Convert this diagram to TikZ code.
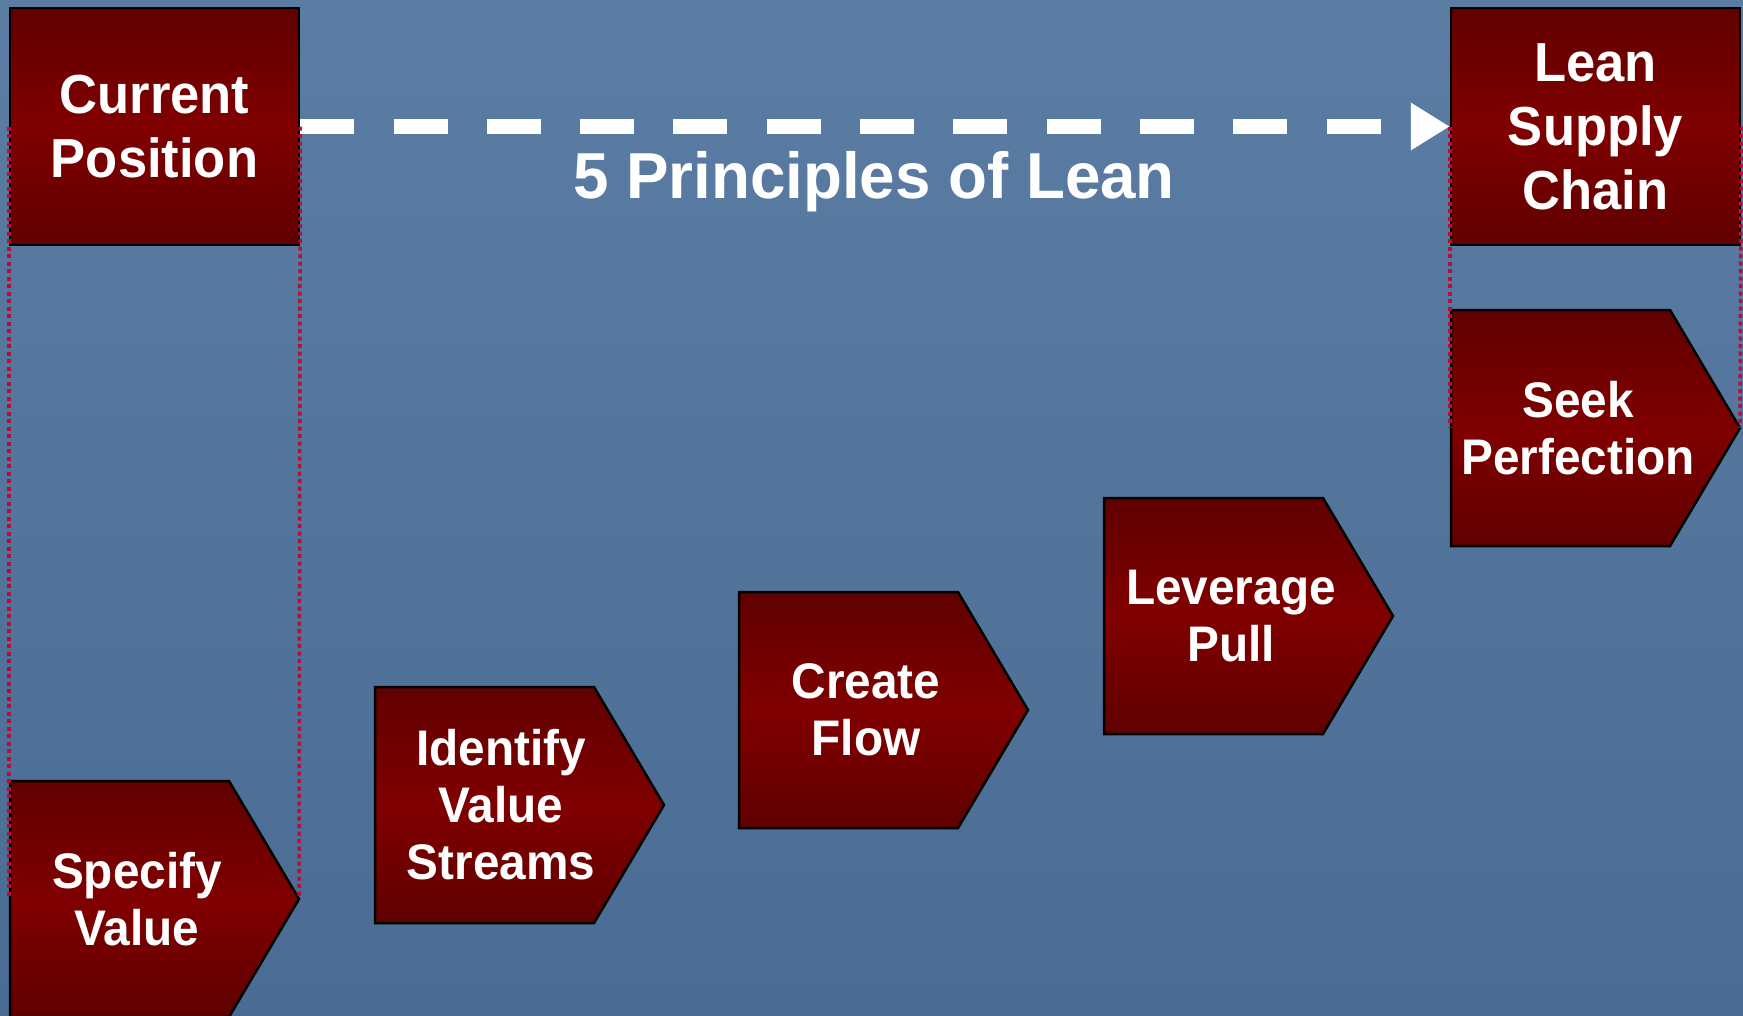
\documentclass[tikz,border=0pt]{standalone}
\usepackage{fontspec}
\setmainfont{Liberation Sans}
\newfontfamily\sqfont[FakeStretch=0.955]{Liberation Sans}
\newfontfamily\ttlfont[FakeStretch=0.98]{Liberation Sans}
\usetikzlibrary{arrows.meta}
\definecolor{bgtop}{RGB}{92,125,163}
\definecolor{bgbot}{RGB}{74,107,147}
\definecolor{boxdark}{RGB}{96,0,0}
\definecolor{boxmid}{RGB}{128,0,0}
\definecolor{dotred}{RGB}{178,16,56}
\tikzset{
  boxshade/.style={top color=boxdark, bottom color=boxdark, middle color=boxmid, draw=black, line width=2.5pt},
  titlebox/.style={boxshade, minimum width=289pt, minimum height=237pt, inner sep=0pt, text=white, align=center, font=\sqfont\bfseries\fontsize{55}{64}\selectfont},
  ptext/.style={text=white, align=center, inner sep=0pt, font=\sqfont\bfseries\fontsize{50}{57}\selectfont},
  guide/.style={draw=dotred, line width=3.5pt, dash pattern=on 4pt off 3.5pt},
  flowarrow/.style={draw=white, line width=15pt, dash pattern=on 54pt off 39.3pt, -{Triangle[length=39pt,width=45pt]}},
}
\newcommand{\pentagon}[3]{% name, left, top
  \draw[boxshade] (#2,#3) -- ++(219,0) -- ++(70,118) -- ++(-70,118) -- ++(-219,0) -- cycle;
  \coordinate (#1-tip) at ({#2+289},{#3+118});
  \coordinate (#1-top) at (#2,#3);
}
\begin{document}
\begin{tikzpicture}[x=1pt,y=-1pt]
\useasboundingbox (0,0) rectangle (1743,1015);
\clip (0,0) rectangle (1743,1015);
\fill[top color=bgtop, bottom color=bgbot] (0,0) rectangle (1743,1015);

% title boxes
\node[titlebox] (cp) at (154.5,126.5) {Current\\Position};
\node[titlebox] (lsc) at (1595.5,126.5) {Lean\\Supply\\Chain};

% pentagons
\pentagon{sv}{10}{781}
\pentagon{ivs}{375}{687}
\pentagon{cf}{739}{592}
\pentagon{lp}{1104}{498}
\pentagon{sp}{1451}{310}

\node[ptext] (svt) at (137,899) {Specify\\Value};
\node[ptext] (ivst) at (501,805) {Identify\\Value\\Streams};
\node[ptext] (cft) at (866,710) {Create\\Flow};
\node[ptext] (lpt) at (1231,616) {Leverage\\Pull};
\node[ptext] (spt) at (1578,428) {Seek\\Perfection};

% dashed arrow
\draw[flowarrow] (cp.east) -- (lsc.west);
\node[text=white, font=\ttlfont\bfseries\fontsize{65}{70}\selectfont, anchor=base, inner sep=0pt] (title) at (874,198) {5 Principles of Lean};

% dotted guides
\coordinate (cpl) at (cp.west);
\coordinate (cpr) at (cp.east);
\draw[guide] (cpl) -- (cpl |- sv-tip);
\draw[guide] (cpr) -- (sv-tip);
\coordinate (lscl) at (lsc.west);
\coordinate (lscr) at (lsc.east);
\draw[guide] (lscl) -- (lscl |- sp-tip);
\draw[guide] (lscr) -- (sp-tip);
\end{tikzpicture}
\end{document}
